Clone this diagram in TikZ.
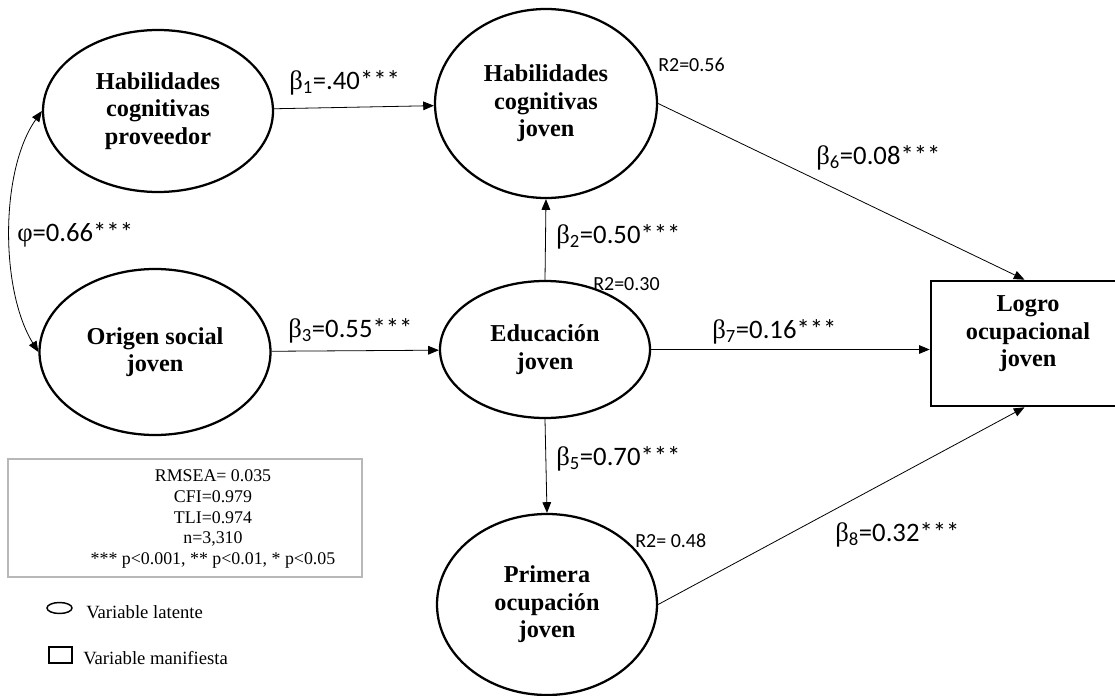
\documentclass[tikz,border=0pt]{standalone}
\usepackage{fontspec}
\setmainfont{Liberation Serif}
\newfontfamily\calfont{Carlito}
\newfontfamily\grkfont{Liberation Serif}
\usetikzlibrary{arrows.meta,shapes.geometric}
\newcommand{\bet}[1]{{\grkfont β}\textsubscript{#1}}
\begin{document}
\begin{tikzpicture}[x=0.75pt,y=-0.75pt,
  latent/.style={ellipse, draw, line width=1.7pt, inner sep=0pt, align=center,
    font=\fontsize{18.2}{20.6}\selectfont\bfseries},
  manifest/.style={rectangle, draw, line width=2pt, inner sep=0pt},
  bigtext/.style={align=center, font=\fontsize{18.2}{20.6}\selectfont\bfseries},
  conn/.style={line width=0.6pt, -{Triangle[length=8pt,width=6.5pt]}},
  coef/.style={anchor=base west, inner sep=0pt, font=\calfont\fontsize{20}{24}\selectfont},
  rsq/.style={anchor=base west, inner sep=0pt, font=\calfont\fontsize{15}{18}\selectfont},
  legtext/.style={anchor=base west, inner sep=0pt, font=\fontsize{14}{16}\selectfont},
  fitbox/.style={draw=black!28, line width=1.1pt}
]
\useasboundingbox (0,0) rectangle (1115,696);

% latent variables
\node[latent, minimum width=172.5pt, minimum height=121.5pt] (A) at (158,111) {Habilidades\\cognitivas\\proveedor};
\node[latent, minimum width=166.5pt, minimum height=141.75pt] (B) at (546,103.5) {Habilidades\\cognitivas\\joven};
\node[latent, minimum width=173.25pt, minimum height=124.5pt] (C) at (155,352) {Origen social\\joven};
\node[latent, minimum width=157.5pt, minimum height=102.75pt] (D) at (545,349.5) {Educación\\joven};
\node[latent, minimum width=165pt, minimum height=135.75pt] (E) at (547,604.5) {Primera\\ocupación\\joven};

% manifest variable
\node[manifest, minimum width=140.25pt, minimum height=93.75pt] (F) at (1024.5,343.5) {};
\node[bigtext] (Ft) at (1028,334) {Logro\\ocupacional\\joven};

% connectors
\draw[conn] (A) -- (B);
\draw[conn] (C) -- (D);
\draw[conn] (D.north) -- (B.south);
\draw[conn] (D.south) -- (E.north);
\draw[conn] (D.east) -- (F.west |- D.east);
\draw[conn] (B.east) -- (F.north);
\draw[conn] (E.east) -- (F.south);
\draw[line width=0.6pt, {Triangle[length=8pt,width=6.5pt]}-{Triangle[length=8pt,width=6.5pt]}]
  (A.west) .. controls (0,170) and (0,290) .. (C.west);

% coefficients
\node[coef] (l1) at (289,89) {\bet{1}=.40***};
\node[coef] (lphi) at (17,241) {{\grkfont φ}=0.66***};
\node[coef] (l3) at (288,337) {\bet{3}=0.55***};
\node[coef] (l2) at (556,243) {\bet{2}=0.50***};
\node[coef] (l6) at (816,164) {\bet{6}=0.08***};
\node[coef] (l7) at (712,338) {\bet{7}=0.16***};
\node[coef] (l5) at (556,465) {\bet{5}=0.70***};
\node[coef] (l8) at (835,541) {\bet{8}=0.32***};

% R2
\node[rsq] (r1) at (658,71) {R2=0.56};
\node[rsq] (r2) at (593,290) {R2=0.30};
\node[rsq] (r3) at (635,547) {R2= 0.48};

% fit box
\node[fitbox, minimum width=265.5pt, minimum height=88.5pt, inner sep=0pt] (fit) at (185,518) {};
\node[align=center, inner sep=0pt, font=\fontsize{13.4}{15.4}\selectfont] (fitt) at (213,519)
  {RMSEA= 0.035\\CFI=0.979\\TLI=0.974\\n=3,310\\*** p<0.001, ** p<0.01, * p<0.05};

% legend
\node[ellipse, draw, line width=1.1pt, minimum width=18.75pt, minimum height=8.25pt, inner sep=0pt] (le) at (59.5,608) {};
\node[legtext] (let) at (86,618) {Variable latente};
\node[rectangle, draw, line width=1.1pt, minimum width=17.25pt, minimum height=12pt, inner sep=0pt] (lr) at (60.5,655) {};
\node[legtext] (lrt) at (83,664) {Variable manifiesta};
\end{tikzpicture}
\end{document}
